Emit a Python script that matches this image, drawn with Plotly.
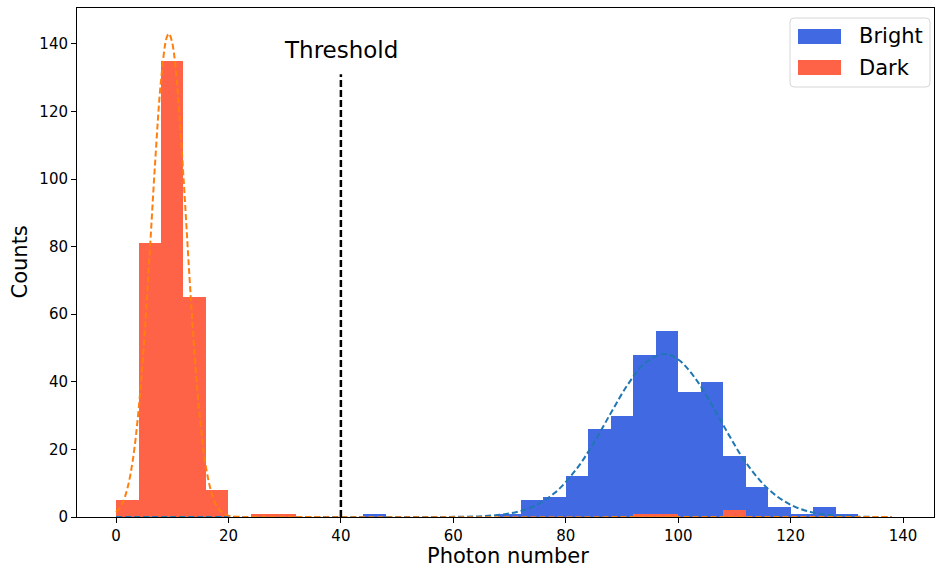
import plotly.graph_objects as go

# ---- data ----
bin_width = 4
bin_left = list(range(0, 140, 4))  # 35 bins: 0-4, 4-8, ..., 136-140

bright_counts = [0, 0, 0, 0, 0, 0, 0, 0, 0, 0, 0, 1, 0, 0, 0, 0, 0, 1,
                 5, 6, 12, 26, 30, 48, 55, 37, 40, 18, 9, 3, 1, 3, 1, 0, 0]
dark_counts = [5, 81, 135, 65, 8, 0, 1, 1, 0, 0, 0, 0, 0, 0, 0, 0, 0, 0,
               0, 0, 0, 0, 0, 1, 1, 0, 0, 2, 0, 0, 0, 0, 0, 0, 0]

# dashed fit curves
dark_fit_x = [0, 1, 2, 3, 4, 5, 6, 7, 8, 9, 9.4, 10, 11, 12, 13, 14, 15, 16,
              17, 18, 19, 20, 22, 24, 138]
dark_fit_y = [1.4, 3.6, 8.3, 17.0, 31.4, 52.2, 78.4, 106.0, 129.1, 141.8, 143.0,
              140.3, 125.2, 100.6, 72.9, 47.6, 28.0, 14.8, 7.1, 3.0, 1.2, 0.4,
              0.04, 0, 0]

bright_fit_x = [0, 55, 60, 65, 70, 74, 78, 82, 85, 88, 91, 94, 97.4, 100, 103,
                106, 109, 112, 116, 120, 124, 128, 132, 138]
bright_fit_y = [0, 0, 0.04, 0.23, 1.05, 2.95, 7.07, 14.4, 22.0, 30.7, 39.1, 45.4,
                48.2, 46.6, 41.1, 33.1, 24.3, 16.2, 8.3, 3.6, 1.3, 0.4, 0.1, 0]

threshold = 40
threshold_top = 131
threshold_label = "Threshold"

series_names = ["Bright", "Dark"]
series_colors = ["#4169E1", "#FF6347"]

x_title = "Photon number"
y_title = "Counts"

# ---- figure ----
centers = [b + bin_width / 2 for b in bin_left]
font_family = "DejaVu Sans"

fig = go.Figure()
fig.add_trace(go.Bar(x=centers, y=bright_counts, width=bin_width, name=series_names[0],
                     marker=dict(color=series_colors[0], line=dict(width=0)),
                     showlegend=False))
fig.add_trace(go.Bar(x=centers, y=dark_counts, width=bin_width, name=series_names[1],
                     marker=dict(color=series_colors[1], line=dict(width=0)),
                     showlegend=False))
fig.add_trace(go.Scatter(x=bright_fit_x, y=bright_fit_y, mode="lines",
                         line=dict(color="#1f77b4", width=2, dash="6px,3px", shape="spline"),
                         showlegend=False))
fig.add_trace(go.Scatter(x=dark_fit_x, y=dark_fit_y, mode="lines",
                         line=dict(color="#ff7f0e", width=2, dash="6px,3px", shape="spline"),
                         showlegend=False))
fig.add_trace(go.Scatter(x=[threshold, threshold], y=[0, threshold_top], mode="lines",
                         line=dict(color="black", width=2.5, dash="7px,3px"),
                         showlegend=False))

fig.add_annotation(x=threshold, y=138.2, text=threshold_label, showarrow=False,
                   xanchor="center", yanchor="middle",
                   font=dict(family=font_family, size=23, color="black"))

# ---- layout helpers (pixel -> paper) ----
plot_l, plot_r, plot_t, plot_b = 77, 934, 8, 517
pw, ph = plot_r - plot_l, plot_b - plot_t


def px(x):
    return (x - plot_l) / pw


def py(y):
    return (plot_b - y) / ph


# axis titles as annotations (matplotlib-like placement)
fig.add_annotation(xref="paper", yref="paper", x=px(508), y=py(556), text=x_title,
                   showarrow=False, xanchor="center", yanchor="middle",
                   font=dict(family=font_family, size=21, color="black"))
fig.add_annotation(xref="paper", yref="paper", x=px(19), y=0.5, text=y_title,
                   textangle=-90, showarrow=False, xanchor="center", yanchor="middle",
                   font=dict(family=font_family, size=21, color="black"))

# ---- matplotlib-style legend (frame, wide patches, labels) ----
bx0, bx1, by0, by1, r = 790, 930, 18, 87, 4
path = (f"M {px(bx0 + r)},{py(by0)} L {px(bx1 - r)},{py(by0)} "
        f"Q {px(bx1)},{py(by0)} {px(bx1)},{py(by0 + r)} "
        f"L {px(bx1)},{py(by1 - r)} Q {px(bx1)},{py(by1)} {px(bx1 - r)},{py(by1)} "
        f"L {px(bx0 + r)},{py(by1)} Q {px(bx0)},{py(by1)} {px(bx0)},{py(by1 - r)} "
        f"L {px(bx0)},{py(by0 + r)} Q {px(bx0)},{py(by0)} {px(bx0 + r)},{py(by0)} Z")
fig.add_shape(type="path", path=path, xref="paper", yref="paper",
              fillcolor="white", line=dict(color="#d6d6d6", width=1), layer="above")

row_tops = [29, 60]
for name, color, top in zip(series_names, series_colors, row_tops):
    fig.add_shape(type="rect", xref="paper", yref="paper",
                  x0=px(798), x1=px(841), y0=py(top + 15), y1=py(top),
                  fillcolor=color, line=dict(width=0), layer="above")
    fig.add_annotation(xref="paper", yref="paper", x=px(857), y=py(top + 7.5),
                       text=name, showarrow=False, xanchor="left", yanchor="middle",
                       font=dict(family=font_family, size=21, color="black"))

axis_common = dict(showline=True, linecolor="black", linewidth=1, mirror=True,
                   ticks="outside", ticklen=5, tickwidth=1, tickcolor="black",
                   showgrid=False, zeroline=False, automargin=False,
                   tickfont=dict(family=font_family, size=15, color="black"))

fig.update_layout(
    width=935, height=567,
    margin=dict(l=77, r=1, t=8, b=50),
    paper_bgcolor="white", plot_bgcolor="white",
    barmode="overlay", bargap=0,
    hovermode=False,
    showlegend=False,
    font=dict(family=font_family, color="black"),
    xaxis=dict(range=[-6.94, 145.5], tickvals=[0, 20, 40, 60, 80, 100, 120, 140],
               **axis_common),
    yaxis=dict(range=[0, 150.6], tickvals=[0, 20, 40, 60, 80, 100, 120, 140],
               **axis_common),
)

fig.write_html("out.html")
